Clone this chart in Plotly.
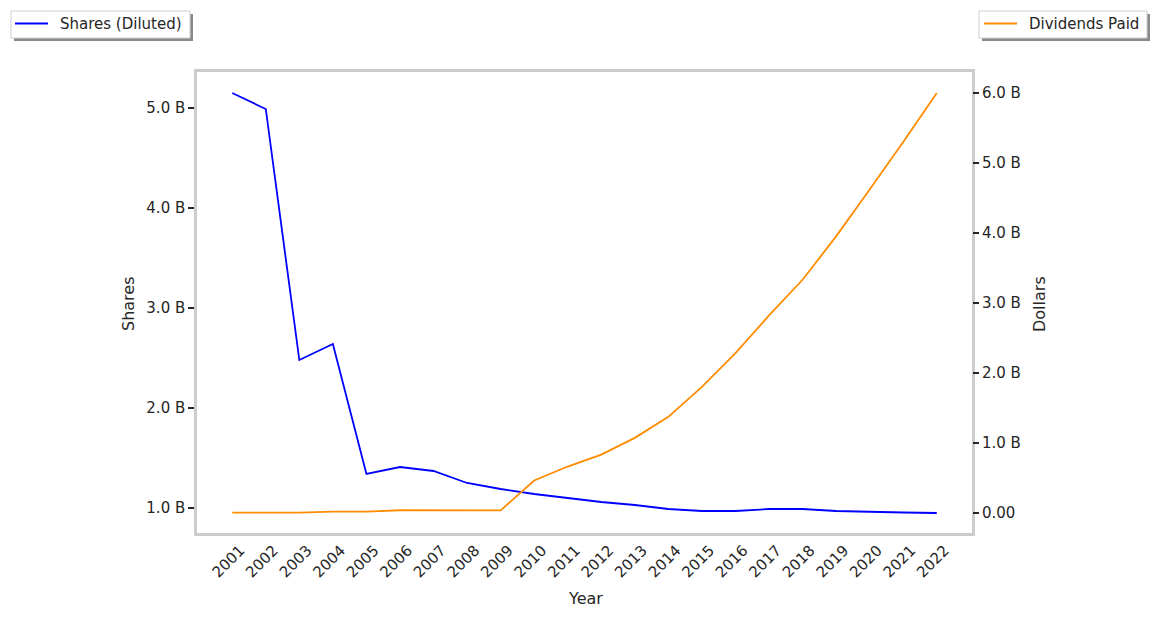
import plotly.graph_objects as go

years = list(range(2001, 2023))
shares_b = [5.15, 4.99, 2.48, 2.64, 1.34, 1.41, 1.37, 1.25, 1.19, 1.14, 1.10, 1.06, 1.03,
            0.99, 0.97, 0.97, 0.99, 0.99, 0.97, 0.96, 0.955, 0.95]
dividends_b = [0.0, 0.0, 0.0, 0.015, 0.015, 0.035, 0.035, 0.033, 0.033, 0.46, 0.66, 0.83,
               1.07, 1.37, 1.80, 2.28, 2.82, 3.33, 3.95, 4.62, 5.30, 6.0]
left_ticks = [1.0, 2.0, 3.0, 4.0, 5.0]
left_labels = ["1.0 B", "2.0 B", "3.0 B", "4.0 B", "5.0 B"]
right_ticks = [0, 1, 2, 3, 4, 5, 6]
right_labels = ["0.00", "1.0 B", "2.0 B", "3.0 B", "4.0 B", "5.0 B", "6.0 B"]

FONT = "DejaVu Sans"
TXT = "#262626"
TICK_SIZE = 15
TITLE_SIZE = 16
BLUE = "#0000ff"
ORANGE = "#ff8c00"

fig = go.Figure()
fig.add_trace(go.Scatter(x=years, y=shares_b, mode="lines", name="Shares (Diluted)",
                         line=dict(color=BLUE, width=1.8), showlegend=False))
fig.add_trace(go.Scatter(x=years, y=dividends_b, mode="lines", name="Dividends Paid",
                         line=dict(color=ORANGE, width=1.8), yaxis="y2", showlegend=False))

# pixel layout -> paper coords
L, R, T, B = 197, 972, 72, 533
W, H = R - L, B - T
def px(x): return (x - L) / W
def py(y): return (B - y) / H

# manual legends with shadows
legends = [
    dict(box=(11, 11, 190, 38), line=(15, 48), text_x=58, label="Shares (Diluted)", color=BLUE),
    dict(box=(979, 11, 1147, 38), line=(984, 1017), text_x=1027, label="Dividends Paid", color=ORANGE),
]
for lg in legends:
    x0, y0, x1, y1 = lg["box"]
    fig.add_shape(type="rect", xref="paper", yref="paper", x0=px(x0 + 3), x1=px(x1 + 3),
                  y0=py(y1 + 3), y1=py(y0 + 3), fillcolor="#8a8a8a", line=dict(width=0),
                  layer="above")
    fig.add_shape(type="rect", xref="paper", yref="paper", x0=px(x0), x1=px(x1),
                  y0=py(y1), y1=py(y0), fillcolor="white", line=dict(color="#d0d0d0", width=1),
                  layer="above")
    cy = (y0 + y1) / 2 - 1
    fig.add_shape(type="line", xref="paper", yref="paper", x0=px(lg["line"][0]), x1=px(lg["line"][1]),
                  y0=py(cy), y1=py(cy), line=dict(color=lg["color"], width=2), layer="above")
    fig.add_annotation(xref="paper", yref="paper", x=px(lg["text_x"]), y=py(cy + 0.5),
                       xanchor="left", yanchor="middle", text=lg["label"], showarrow=False,
                       font=dict(family=FONT, size=TICK_SIZE, color=TXT))

# axis titles
fig.add_annotation(xref="paper", yref="paper", x=px(128), y=py(304), text="Shares", textangle=-90,
                   showarrow=False, xanchor="center", yanchor="middle",
                   font=dict(family=FONT, size=TITLE_SIZE, color=TXT))
fig.add_annotation(xref="paper", yref="paper", x=px(1039), y=py(304), text="Dollars", textangle=-90,
                   showarrow=False, xanchor="center", yanchor="middle",
                   font=dict(family=FONT, size=TITLE_SIZE, color=TXT))
fig.add_annotation(xref="paper", yref="paper", x=px(585), y=py(598), text="Year",
                   showarrow=False, xanchor="center", yanchor="middle",
                   font=dict(family=FONT, size=TITLE_SIZE, color=TXT))

fig.update_layout(
    width=1157, height=618,
    margin=dict(l=L, r=1157 - R, t=T, b=618 - B, autoexpand=False),
    paper_bgcolor="white", plot_bgcolor="white",
    showlegend=False,
    font=dict(family=FONT, size=TICK_SIZE, color=TXT),
    xaxis=dict(range=[1999.95, 2023.05], tickvals=years, ticktext=[str(y) for y in years],
               tickangle=-45, showgrid=False, zeroline=False, showline=True, mirror=True,
               linecolor="#cccccc", linewidth=2.5, ticks="", automargin=False,
               ticklabelshift=8,
               tickfont=dict(size=TICK_SIZE, color=TXT)),
    yaxis=dict(range=[0.75, 5.36], tickvals=left_ticks, ticktext=left_labels,
               showgrid=False, zeroline=False, showline=True, mirror=True,
               linecolor="#cccccc", linewidth=2.5, ticks="outside", ticklen=6,
               tickcolor="#262626", tickwidth=1.5, automargin=False,
               tickfont=dict(size=TICK_SIZE, color=TXT)),
    yaxis2=dict(range=[-0.29, 6.3], tickvals=right_ticks, ticktext=right_labels,
                overlaying="y", side="right", showgrid=False, zeroline=False,
                showline=False, ticks="outside", ticklen=6, tickcolor="#262626",
                tickwidth=1.5, automargin=False,
                tickfont=dict(size=TICK_SIZE, color=TXT)),
)

fig.write_html("out.html", config={"displayModeBar": False},
               post_script="document.body.style.margin='0';")
